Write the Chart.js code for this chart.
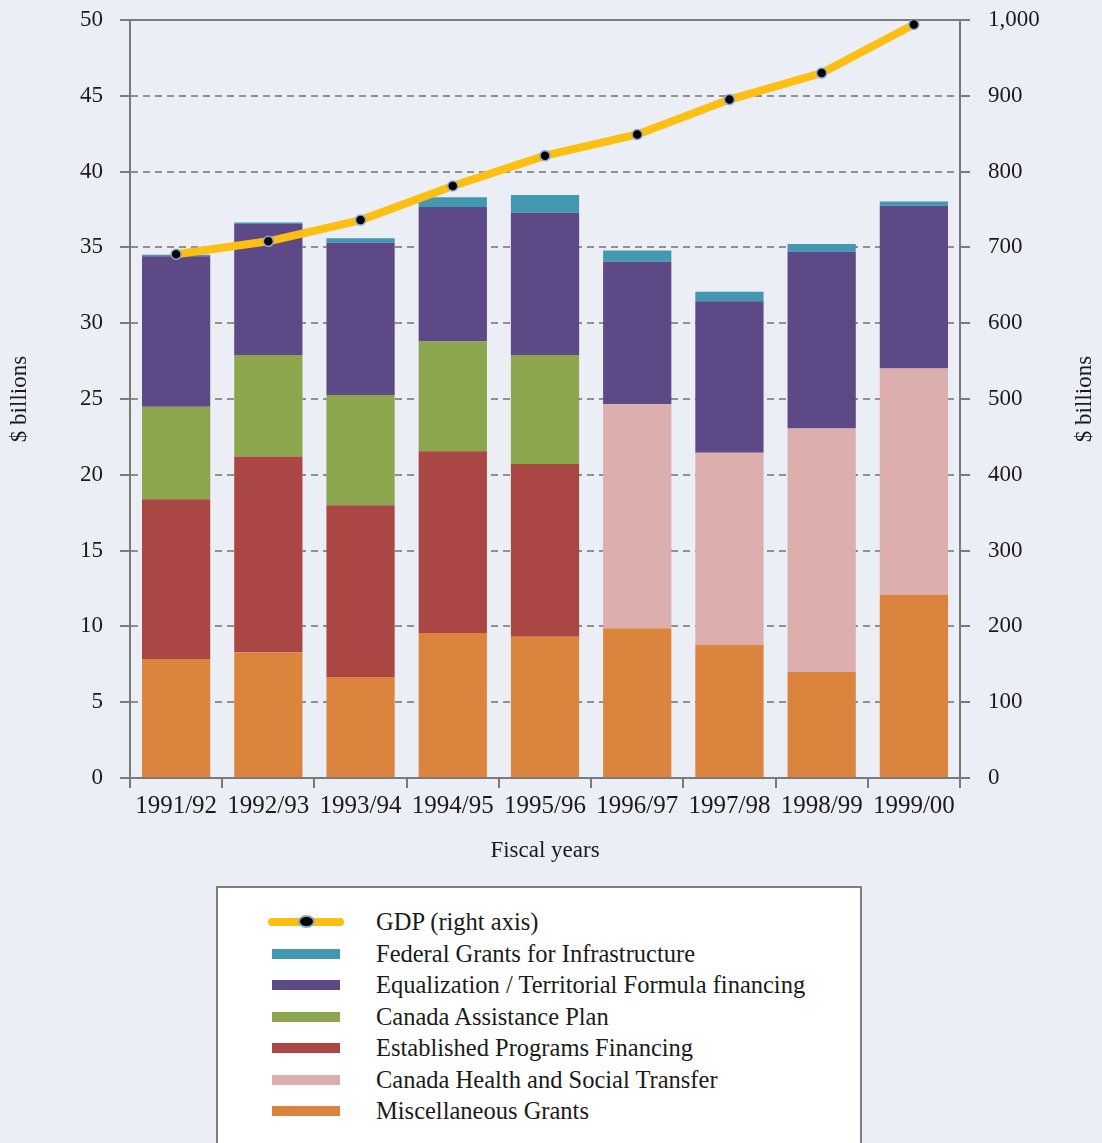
<!DOCTYPE html>
<html>
<head>
<meta charset="utf-8">
<script src="https://cdn.jsdelivr.net/npm/chart.js@4"></script>
<style>
  html, body { margin: 0; padding: 0; background: #ebeef5; }
  body { width: 1102px; height: 1143px; position: relative; overflow: hidden; }
  #chart { position: absolute; left: 0; top: 0; }
  #legend {
    position: absolute; left: 216px; top: 886px; width: 642px; height: 300px;
    border: 2px solid #7f7f7f; background: #fff; box-sizing: content-box;
    font-family: "Liberation Serif", serif; font-size: 24.5px; color: #1a1a1a;
    padding-top: 18px;
  }
  .row { position: relative; height: 31.5px; line-height: 31.5px; }
  .row .sw { position: absolute; left: 54px; top: 11px; width: 68px; height: 10px; }
  .row .ln { position: absolute; left: 50px; top: 12px; width: 76px; height: 8px; border-radius: 4px; }
  .row .pt { position: absolute; left: 80px; top: 9px; width: 13px; height: 9px; border-radius: 50%;
             background: #000; border: 2px solid #8ea6cc; }
  .row .tx { position: absolute; left: 158px; top: 0; white-space: nowrap; }
</style>
</head>
<body>
<canvas id="chart" width="1102" height="880"></canvas>
<div id="legend"></div>
<script>
const years = ["1991/92", "1992/93", "1993/94", "1994/95", "1995/96", "1996/97", "1997/98", "1998/99", "1999/00"];

// $ billions, stacked from the bottom up
const miscGrants = [7.85, 8.29, 6.66, 9.56, 9.32, 9.87, 8.79, 6.99, 12.09];
const chst = [null, null, null, null, null, 14.78, 12.67, 16.07, 14.93];
const epf = [10.53, 12.91, 11.33, 11.99, 11.39, null, null, null, null];
const cap = [6.11, 6.7, 7.27, 7.25, 7.19, null, null, null, null];
const equalization = [9.92, 8.64, 10.05, 8.86, 9.39, 9.41, 9.98, 11.66, 10.73];
const infrastructure = [0.11, 0.11, 0.29, 0.64, 1.17, 0.74, 0.64, 0.5, 0.27];

// GDP, $ billions (right axis)
const gdp = [691, 708, 736, 781, 821, 849, 895, 930, 994];

const axisColor = "#7a7a7a";
const gridColor = "#909090";
const textColor = "#1a1a1a";
const serif = "'Liberation Serif', serif";

const gdpColor = "#fcbf12";

const barSeries = [
  { label: "Miscellaneous Grants", data: miscGrants, color: "#db843d" },
  { label: "Canada Health and Social Transfer", data: chst, color: "#ddaeae" },
  { label: "Established Programs Financing", data: epf, color: "#aa4745" },
  { label: "Canada Assistance Plan", data: cap, color: "#8ba64c" },
  { label: "Equalization / Territorial Formula financing", data: equalization, color: "#5c4985" },
  { label: "Federal Grants for Infrastructure", data: infrastructure, color: "#4298af" },
];

const datasets = [
  {
    type: "line",
    label: "GDP (right axis)",
    data: gdp,
    yAxisID: "y1",
    order: 0,
    borderColor: gdpColor,
    borderWidth: 8,
    tension: 0,
    pointRadius: 5,
    pointBackgroundColor: "#000",
    pointBorderColor: "#8ea6cc",
    pointBorderWidth: 1.5,
  },
].concat(
  barSeries.map((s) => ({
    type: "bar",
    label: s.label,
    data: s.data,
    backgroundColor: s.color,
    borderWidth: 0,
    yAxisID: "y",
    order: 1,
    barPercentage: 0.74,
    categoryPercentage: 1,
  }))
);

// top frame line + right axis title (reads bottom to top)
const framePlugin = {
  id: "frame",
  beforeDatasetsDraw(chart) {
    const { ctx, chartArea } = chart;
    ctx.save();
    ctx.strokeStyle = axisColor;
    ctx.lineWidth = 2;
    ctx.beginPath();
    ctx.moveTo(chartArea.left - 1, chartArea.top);
    ctx.lineTo(chartArea.right + 1, chartArea.top);
    ctx.stroke();
    ctx.restore();
  },
  afterDraw(chart) {
    const { ctx, chartArea } = chart;
    ctx.save();
    ctx.translate(chart.width - 17, (chartArea.top + chartArea.bottom) / 2);
    ctx.rotate(-Math.PI / 2);
    ctx.font = "23px " + serif;
    ctx.fillStyle = textColor;
    ctx.textAlign = "center";
    ctx.textBaseline = "middle";
    ctx.fillText("$ billions", 0, 0);
    ctx.restore();
  },
};

// fixed axis sizes, no extra padding from the tick labels
const fixWidth = (w) => (scale) => {
  scale.width = w;
  scale.paddingTop = 0;
  scale.paddingBottom = 0;
};

new Chart(document.getElementById("chart").getContext("2d"), {
  data: { labels: years, datasets: datasets },
  options: {
    responsive: false,
    animation: false,
    layout: { padding: { top: 20, left: 0, right: 0, bottom: 0 } },
    plugins: { legend: { display: false }, tooltip: { enabled: false } },
    scales: {
      x: {
        stacked: true,
        offset: true,
        afterFit: (scale) => {
          scale.height = 102;
          scale.paddingLeft = 0;
          scale.paddingRight = 0;
        },
        grid: {
          offset: true,
          drawOnChartArea: false,
          drawTicks: true,
          tickLength: 10,
          color: axisColor,
          lineWidth: 2,
        },
        border: { display: true, color: axisColor, width: 2 },
        ticks: { color: textColor, font: { family: serif, size: 25 }, padding: 3, maxRotation: 0 },
        title: {
          display: true,
          text: "Fiscal years",
          color: textColor,
          font: { family: serif, size: 23 },
          padding: { top: 0, bottom: 15 },
        },
      },
      y: {
        position: "left",
        stacked: true,
        min: 0,
        max: 50,
        afterFit: fixWidth(130),
        ticks: { stepSize: 5, color: textColor, font: { family: serif, size: 23 }, padding: 17 },
        grid: {
          color: gridColor,
          lineWidth: 2,
          tickLength: 10,
          tickColor: axisColor,
          tickWidth: 2,
        },
        border: { display: true, color: axisColor, width: 2, dash: [7, 5] },
        title: {
          display: true,
          text: "$ billions",
          color: textColor,
          font: { family: serif, size: 23 },
          padding: { top: 6, bottom: 0 },
        },
      },
      y1: {
        position: "right",
        min: 0,
        max: 1000,
        afterFit: fixWidth(142),
        ticks: { stepSize: 100, color: textColor, font: { family: serif, size: 23 }, padding: 18 },
        grid: {
          drawOnChartArea: false,
          tickLength: 10,
          color: axisColor,
          lineWidth: 2,
        },
        border: { display: true, color: axisColor, width: 2 },
      },
    },
  },
  plugins: [framePlugin],
});

// legend: GDP first, then the bar series top-down
const legend = document.getElementById("legend");
const legendItems = [{ label: "GDP (right axis)", line: true }].concat(
  barSeries.slice().reverse().map((s) => ({ label: s.label, color: s.color }))
);
legendItems.forEach((item) => {
  const row = document.createElement("div");
  row.className = "row";
  if (item.line) {
    row.innerHTML = '<span class="ln" style="background:' + gdpColor + '"></span><span class="pt"></span>';
  } else {
    row.innerHTML = '<span class="sw" style="background:' + item.color + '"></span>';
  }
  const tx = document.createElement("span");
  tx.className = "tx";
  tx.textContent = item.label;
  row.appendChild(tx);
  legend.appendChild(row);
});
</script>
</body>
</html>
